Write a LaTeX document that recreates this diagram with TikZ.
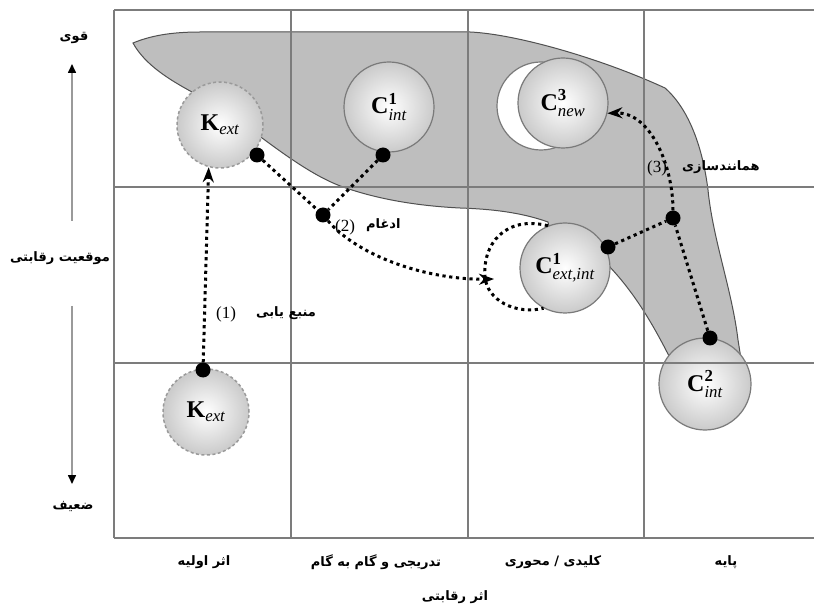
\documentclass[tikz,border=0pt]{standalone}
\usepackage{amsmath}
\usepackage{fontspec}
\setmainfont{Liberation Serif}
\newfontfamily\fa[Script=Arabic]{DejaVu Sans}
\TeXXeTstate=1
\usetikzlibrary{arrows.meta}
\definecolor{blobc}{HTML}{BEBEBE}
\definecolor{blobline}{HTML}{505050}
\definecolor{gridc}{HTML}{7C7C7C}
\definecolor{circline}{HTML}{7A7A7A}
\definecolor{circout}{HTML}{CACACA}
\definecolor{axisc}{HTML}{9A9A9A}
\tikzset{
  gridline/.style={draw=gridc, line width=1.3pt},
  bubble/.style={circle, inner sep=0pt, draw=circline, line width=1.2pt,
     shading=radial, inner color=white, outer color=circout,
     font=\fontsize{24}{28}\selectfont},
  kbubble/.style={bubble, draw=axisc, dash pattern=on 3pt off 2.5pt, line width=1.5pt},
  dotn/.style={circle, fill=black, inner sep=0pt, minimum size=15pt},
  conn/.style={draw=black, line width=3pt, dash pattern=on 3.2pt off 3.6pt},
  tip/.style={-{Stealth[length=15pt,width=11pt]}},
  fatext/.style={font=\fa\bfseries\fontsize{13}{15}\selectfont, inner sep=0pt},
  numtext/.style={font=\fontsize{17}{20}\selectfont, inner sep=0pt},
  axisarrow/.style={draw=axisc, line width=1.6pt, -{Triangle[length=9pt,width=8pt,black]}}
}
\begin{document}
\begin{tikzpicture}[x=1pt,y=-1pt]
\useasboundingbox[fill=white] (0,0) rectangle (814,612);

% shaded region
\filldraw[fill=blobc, draw=blobline, line width=1pt]
  (133,43) .. controls (150,36) and (170,32) .. (200,32)
  -- (470,32)
  .. controls (515,34) and (600,58) .. (665,88)
  .. controls (690,110) and (703,150) .. (708,190)
  .. controls (713,240) and (732,290) .. (738,340)
  -- (742,365) -- (672,362)
  .. controls (655,328) and (635,292) .. (605,262)
  -- (550,232) -- (548,222)
  .. controls (520,212) and (490,209) .. (460,208)
  .. controls (420,206) and (380,200) .. (343,187)
  .. controls (315,177) and (285,155) .. (258,135)
  -- (205,110) -- (192,92)
  .. controls (170,80) and (145,65) .. (133,43) -- cycle;

% grid
\draw[gridline] (114,10) -- (814,10);
\draw[gridline] (114,187) -- (814,187);
\draw[gridline] (114,363) -- (814,363);
\draw[gridline] (114,538) -- (814,538);
\draw[gridline] (114,10) -- (114,538);
\draw[gridline] (291,10) -- (291,538);
\draw[gridline] (468,10) -- (468,538);
\draw[gridline] (644,10) -- (644,538);

% circles
\node[kbubble, minimum size=86pt] (kt) at (220,125) {$\textbf{K}_{\textit{ext}}$};
\node[kbubble, minimum size=86pt] (kb) at (206,412) {$\textbf{K}_{\textit{ext}}$};
\node[bubble, minimum size=90pt] (c1) at (389,107) {$\textbf{C}^{\textbf{1}}_{\textit{int}}$};
\node[circle, draw=circline, line width=1.2pt, fill=white, minimum size=88pt] (c3b) at (541,106) {};
\node[bubble, minimum size=90pt] (c3) at (563,103) {$\textbf{C}^{\textbf{3}}_{\textit{new}}$};
\node[bubble, minimum size=90pt] (cei) at (565,268) {$\textbf{C}^{\textbf{1}}_{\textit{ext,int}}$};
\node[bubble, minimum size=92pt] (c2) at (705,384) {$\textbf{C}^{\textbf{2}}_{\textit{int}}$};
\draw[gridline] (659,363) -- (751,363);

% dots
\node[dotn] (d1) at (203,370) {};
\node[dotn] (d2) at (257,155) {};
\node[dotn] (d3) at (383,155) {};
\node[dotn] (dj) at (323,215) {};
\node[dotn] (d5) at (608,247) {};
\node[dotn] (d6) at (673,218) {};
\node[dotn] (d7) at (710,338) {};
\coordinate (tipA) at (494,279);

% connectors
\draw[conn, tip] (d1) -- (kt.255);
\draw[conn] (d2) -- (dj);
\draw[conn] (d3) -- (dj);
\draw[conn, tip] (dj) .. controls (360,258) and (430,280) .. (tipA);
\draw[conn] (cei.112) .. controls (505,215) and (482,245) .. (485,277)
   .. controls (487,300) and (515,315) .. (cei.242);
\draw[conn] (d5) -- (d6);
\draw[conn] (d7) -- (d6);
\draw[conn, tip] (d6) .. controls (673,165) and (650,112) .. (c3.-13);

% labels on the flows
\node[numtext] (n1) at (226,314) {(1)};
\node[fatext, anchor=west] (l1) at (256,313) {\beginR منبع یابی\endR};
\node[numtext] (n2) at (345,227) {(2)};
\node[fatext, anchor=west] (l2) at (366,225) {\beginR ادغام\endR};
\node[numtext] (n3) at (657,168) {(3)};
\node[fatext, anchor=west] (l3) at (682,167) {\beginR همانندسازی\endR};

% vertical axis
\node[fatext] (strong) at (74,38) {\beginR قوی\endR};
\node[fatext] (pos) at (60,258) {\beginR موقعیت رقابتی\endR};
\node[fatext] (weak) at (73,506) {\beginR ضعیف\endR};
\coordinate (ua1) at (72,221);
\coordinate (ua2) at (72,64);
\coordinate (da1) at (72,306);
\coordinate (da2) at (72,484);
\draw[axisarrow] (ua1) -- (ua2);
\draw[axisarrow] (da1) -- (da2);

% horizontal axis labels
\node[fatext] (h1) at (204,562) {\beginR اثر اولیه\endR};
\node[fatext] (h2) at (376,562) {\beginR تدریجی و گام به گام\endR};
\node[fatext] (h3) at (553,562) {\beginR کلیدی / محوری\endR};
\node[fatext] (h4) at (726,562) {\beginR پایه\endR};
\node[fatext] (hx) at (455,597) {\beginR اثر رقابتی\endR};
\end{tikzpicture}
\end{document}
